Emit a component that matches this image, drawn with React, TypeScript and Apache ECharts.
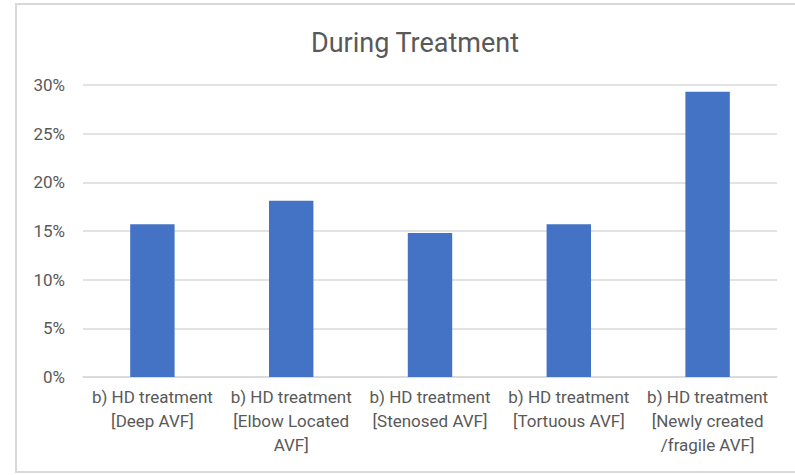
import React, { useEffect, useRef } from "react";
import * as echarts from "echarts";

const categories = [
  "b) HD treatment\n[Deep AVF]",
  "b) HD treatment\n[Elbow Located\nAVF]",
  "b) HD treatment\n[Stenosed AVF]",
  "b) HD treatment\n[Tortuous AVF]",
  "b) HD treatment\n[Newly created\n/fragile AVF]",
];
const values = [15.7, 18.1, 14.8, 15.7, 29.3];
const title = "During Treatment";

export default function App() {
  const ref = useRef<HTMLDivElement>(null);
  useEffect(() => {
    if (!ref.current) return;
    const chart = echarts.init(ref.current, null, { renderer: "svg" });
    const font = "Roboto, 'Liberation Sans', sans-serif";
    chart.setOption({
      animation: false,
      backgroundColor: "#ffffff",
      title: {
        text: title,
        left: 410,
        top: 24,
        textAlign: "center",
        textStyle: { color: "#595959", fontSize: 27, fontWeight: "normal", fontFamily: font },
      },
      graphic: [
        {
          type: "rect",
          shape: { x: 16, y: 4, width: 800, height: 468 },
          style: { fill: "none", stroke: "#d9d9d9", lineWidth: 2 },
          silent: true,
        },
      ],
      grid: { left: 83, right: 18, top: 85, bottom: 98, containLabel: false },
      xAxis: {
        type: "category",
        data: categories,
        axisLine: { show: true, lineStyle: { color: "#d9d9d9", width: 1.5 } },
        axisTick: { show: false },
        axisLabel: {
          color: "#595959",
          fontSize: 17,
          fontFamily: font,
          lineHeight: 24,
          margin: 8,
          interval: 0,
          align: "center",
        },
      },
      yAxis: {
        type: "value",
        min: 0,
        max: 30,
        interval: 5,
        axisLine: { show: false },
        axisTick: { show: false },
        splitLine: { lineStyle: { color: "#d9d9d9", width: 1.5 } },
        axisLabel: {
          color: "#595959",
          fontSize: 17,
          fontFamily: font,
          margin: 18,
          formatter: (v: number) => `${v}%`,
        },
      },
      series: [
        {
          type: "bar",
          data: values,
          barWidth: "32%",
          itemStyle: { color: "#4472c4" },
        },
      ],
    });
    return () => chart.dispose();
  }, []);
  return (
    <div
      ref={ref}
      style={{ position: "fixed", left: 0, top: 0, width: 795, height: 475 }}
    />
  );
}
